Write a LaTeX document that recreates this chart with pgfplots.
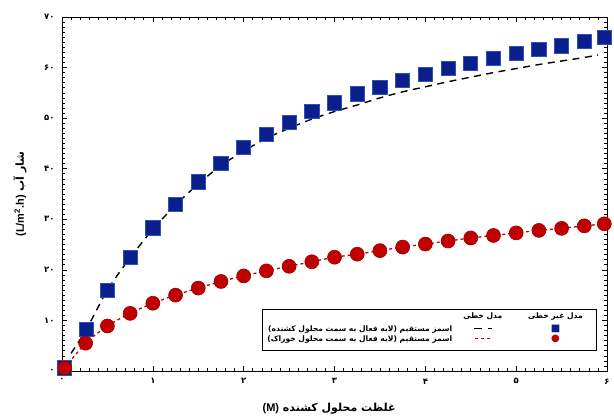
\documentclass[border=0pt]{standalone}
\usepackage{pgfplots}
\pgfplotsset{compat=1.18}
\usepackage{pgfplotstable}
\usepackage{fontspec}
\setmainfont{Liberation Sans}
\newfontfamily\fa[Script=Arabic]{DejaVu Sans}
\TeXXeTstate=1
\definecolor{sqfill}{HTML}{0A1E8C}
\definecolor{sqedge}{HTML}{3050B8}
\definecolor{cifill}{HTML}{C00000}
\definecolor{ciedge}{HTML}{9A0000}

\pgfplotstableread{
x y
0.03 0.6
0.27 8.3
0.50 16.0
0.75 22.4
1.00 28.3
1.25 32.9
1.50 37.4
1.75 41.0
2.00 44.2
2.25 46.8
2.50 49.1
2.75 51.3
3.00 53.0
3.25 54.8
3.50 56.1
3.75 57.4
4.00 58.7
4.25 59.8
4.50 60.8
4.75 61.8
5.00 62.8
5.25 63.6
5.50 64.3
5.75 65.1
5.97 65.9
}\sqdata

\pgfplotstableread{
x y
0.03 0.6
0.26 5.5
0.50 8.9
0.75 11.4
1.00 13.4
1.25 15.0
1.50 16.4
1.75 17.7
2.00 18.8
2.25 19.8
2.50 20.7
2.75 21.6
3.00 22.5
3.25 23.1
3.50 23.8
3.75 24.5
4.00 25.1
4.25 25.7
4.50 26.3
4.75 26.8
5.00 27.3
5.25 27.8
5.50 28.2
5.75 28.7
5.97 29.1
}\cidata

\pgfplotstableread{
x y
0.10 3.5
0.27 8.3
0.50 16.0
0.75 22.4
1.00 28.0
1.25 32.8
1.50 37.0
1.75 40.6
2.00 43.5
2.25 46.0
2.50 48.0
2.75 49.8
3.00 51.3
3.25 52.6
3.50 54.0
3.75 55.2
4.00 56.2
4.25 57.2
4.50 58.1
4.75 59.0
5.00 59.8
5.25 60.6
5.50 61.3
5.75 62.0
5.90 62.5
}\fitdata

\begin{document}
\begin{tikzpicture}
\begin{axis}[
  scale only axis,
  width=545pt, height=354pt,
  xmin=0, xmax=6, ymin=0, ymax=70,
  xtick={0,1,2,3,4,5,6},
  xticklabels={۰,۱,۲,۳,۴,۵,۶},
  ytick={0,10,20,30,40,50,60,70},
  yticklabels={۰,۱۰,۲۰,۳۰,۴۰,۵۰,۶۰,۷۰},
  minor x tick num=9, minor y tick num=9,
  tick align=inside,
  major tick length=5pt, minor tick length=2.8pt,
  tick style={black, line width=0.6pt},
  axis line style={black, line width=0.9pt},
  ticklabel style={font=\fa\bfseries\fontsize{8.5}{10}\selectfont, text=black},
  xticklabel style={yshift=-4pt},
  yticklabel style={xshift=-4pt},
  clip=false,
  every axis x label/.style={at={(axis description cs:0.49,-0.105)}, anchor=center},
  every axis y label/.style={at={(axis description cs:-0.077,0.5)}, anchor=center, rotate=90},
  xlabel={\fa\bfseries\fontsize{11}{13}\selectfont\beginR غلظت محلول کشنده \beginL{\rmfamily(M)}\endL\endR},
  ylabel={\fa\bfseries\fontsize{11}{13}\selectfont\beginR شار آب \beginL{\rmfamily(L/m\textsuperscript{2}.h)}\endL\endR},
]
\path (axis description cs:-0.1138,-0.1328) rectangle (axis description cs:1.0128,1.048);

\addplot[black, line width=1.4pt, dash pattern=on 7pt off 5.5pt, smooth, no marks] table {\fitdata};
\addplot[cifill, line width=1.3pt, dash pattern=on 3pt off 3pt, smooth, no marks] table {\cidata};

\addplot[only marks, mark=square*, mark size=7.1pt, mark options={fill=sqfill, draw=sqedge, line width=0.8pt}] table {\sqdata};
\addplot[only marks, mark=*, mark size=7pt, mark options={fill=cifill, draw=ciedge, line width=0.6pt}] table {\cidata};

\node[draw=black, line width=0.8pt, fill=white, anchor=north east, inner xsep=2pt, inner ysep=3pt]
  at (axis description cs:0.982,0.176) {%
  \fa\bfseries\fontsize{7.6}{9}\selectfont
  \renewcommand{\arraystretch}{1}%
  \begin{tabular}{@{\hspace{3pt}}r@{\hspace{11pt}}c@{\hspace{26pt}}c@{\hspace{12pt}}}
   & \beginR مدل خطی\endR & \beginR مدل غیر خطی\endR \\[4pt]
  \beginR اسمز مستقیم (لایه فعال به سمت محلول کشنده)\endR &
   {\color{black}\rule[2.2pt]{8pt}{1.5pt}\hspace{6pt}\rule[2.2pt]{4pt}{1.5pt}} &
   {\color{sqfill}\fontsize{10}{10}\selectfont ■} \\[1pt]
  \beginR اسمز مستقیم (لایه فعال به سمت محلول خوراک)\endR &
   {\color{cifill}\rule[2.2pt]{3pt}{1.2pt}\hspace{3pt}\rule[2.2pt]{3pt}{1.2pt}\hspace{3pt}\rule[2.2pt]{3pt}{1.2pt}} &
   {\color{cifill}\fontsize{10}{10}\selectfont ●} \\[3pt]
  \end{tabular}};
\end{axis}
\end{tikzpicture}
\end{document}
